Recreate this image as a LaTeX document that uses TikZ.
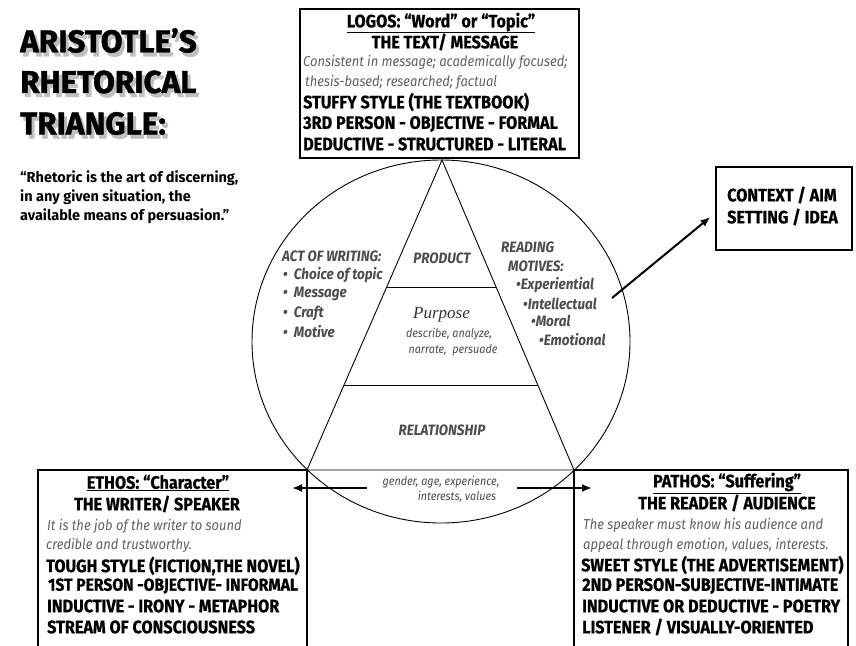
\documentclass[tikz,border=0pt]{standalone}
\usepackage{fontspec}
\setmainfont{Fira Sans}
\newfontfamily\hfont[FakeStretch=0.9,FakeBold=0.6]{Fira Sans}
\newfontfamily\tfont[FakeBold=1.2]{Fira Sans}
\newfontfamily\nfont[FakeStretch=0.9]{Fira Sans}
\newfontfamily\pfont{Liberation Serif}
\usetikzlibrary{arrows.meta,calc,shapes.geometric}
\newcommand{\shadowtext}[1]{\makebox[0pt][l]{\raisebox{-4pt}{\hspace{3pt}\textcolor{black!25}{#1}}}#1}
\tikzset{
 hd/.style={font=\hfont\bfseries\fontsize{18}{18}\selectfont, inner sep=0pt},
 hdl/.style={hd, anchor=west},
 nt/.style={font=\nfont\itshape\fontsize{14.4}{15}\selectfont, text=black!62, inner sep=0pt, anchor=west},
 ci/.style={font=\nfont\itshape\bfseries\fontsize{15}{15}\selectfont, text=black!70, inner sep=0pt},
 cil/.style={ci, anchor=west},
 sm/.style={font=\nfont\itshape\fontsize{12}{12}\selectfont, text=black!70, inner sep=0pt},
 bx/.style={draw, line width=1.2pt, inner sep=0pt},
 arr/.style={line width=2pt, -{Latex[length=10pt,width=8pt]}},
 thinline/.style={line width=0.9pt},
 ttl/.style={font=\tfont\bfseries\fontsize{31.5}{31.5}\selectfont, inner sep=0pt, anchor=west},
 qt/.style={font=\bfseries\fontsize{14.5}{14.5}\selectfont, inner sep=0pt, anchor=west}
}
\begin{document}
\begin{tikzpicture}[x=1pt,y=-1pt]
\useasboundingbox (0,0) rectangle (856,645);
\clip (0,0) rectangle (856,645);
\fill[white] (0,0) rectangle (856,645);

% title with shadow
\node[ttl] (t1) at (20,42.5) {\shadowtext{ARISTOTLE’S}};
\node[ttl] (t2) at (20,84) {\shadowtext{RHETORICAL}};
\node[ttl] (t3) at (20,125.5) {\shadowtext{TRIANGLE:}};

\node[qt] (q1) at (20,178) {“Rhetoric is the art of discerning,};
\node[qt] (q2) at (20,197) {in any given situation, the};
\node[qt] (q3) at (20,216) {available means of persuasion.”};

% circle and triangle
\node[draw, thinline, ellipse, minimum width=378pt, minimum height=363pt, inner sep=0pt] (circ) at (441,341.5) {};
\coordinate (apex) at (442,160);
\coordinate (bl) at (307,470);
\coordinate (br) at (574,470);
\draw[thinline] (apex) -- (bl) -- (br) -- cycle;
\draw[thinline] ($(apex)!0.4097!(bl)$) -- ($(apex)!0.4097!(br)$);
\draw[thinline] ($(apex)!0.7258!(bl)$) -- ($(apex)!0.7258!(br)$);

% boxes
\node[bx, fill=white, minimum width=279pt, minimum height=149pt] (logos) at (439.5,83.5) {};
\node[bx, minimum width=269pt, minimum height=200pt] (ethos) at (172.5,570) {};
\node[bx, minimum width=274pt, minimum height=200pt] (pathos) at (711,570) {};
\node[bx, minimum width=136pt, minimum height=83pt] (ctx) at (784,208.5) {};

% logos text
\node[hd] (lg1) at (441,23) {\underline{LOGOS: “Word” or “Topic”}};
\node[hd] (lg2) at (445,42) {THE TEXT/ MESSAGE};
\node[nt] (lg3) at (303,62) {Consistent in message; academically focused;};
\node[nt] (lg4) at (305,82) {thesis-based; researched; factual};
\node[hdl] (lg5) at (303,102) {STUFFY STYLE (THE TEXTBOOK)};
\node[hdl] (lg6) at (303,124) {3RD PERSON - OBJECTIVE - FORMAL};
\node[hdl] (lg7) at (303,144) {DEDUCTIVE - STRUCTURED - LITERAL};

% ethos text
\node[hd] (et1) at (158,483) {\underline{ETHOS: “Character”}};
\node[hd] (et2) at (157,504) {THE WRITER/ SPEAKER};
\node[nt] (et3) at (47,526) {It is the job of the writer to sound};
\node[nt] (et4) at (46,545) {credible and trustworthy.};
\node[hdl] (et5) at (46,566) {TOUGH STYLE (FICTION,THE NOVEL)};
\node[hdl, font=\hfont\bfseries\fontsize{17.4}{17.4}\selectfont] (et6) at (48,586) {1ST PERSON -OBJECTIVE- INFORMAL};
\node[hdl] (et7) at (47,606) {INDUCTIVE - IRONY - METAPHOR};
\node[hdl] (et8) at (47,627) {STREAM OF CONSCIOUSNESS};

% pathos text
\node[hd] (pa1) at (727,483) {\underline{PATHOS: “Suffering”}};
\node[hd] (pa2) at (727,503) {THE READER / AUDIENCE};
\node[nt] (pa3) at (583,525) {The speaker must know his audience and};
\node[nt] (pa4) at (583,545) {appeal through emotion, values, interests.};
\node[hdl] (pa5) at (581,565) {SWEET STYLE (THE ADVERTISEMENT)};
\node[hdl] (pa6) at (582,586) {2ND PERSON-SUBJECTIVE-INTIMATE};
\node[hdl] (pa7) at (582,606) {INDUCTIVE OR DEDUCTIVE - POETRY};
\node[hdl] (pa8) at (582,627) {LISTENER / VISUALLY-ORIENTED};

% context text
\node[hdl] (cx1) at (727,195) {CONTEXT / AIM};
\node[hdl] (cx2) at (727,217) {SETTING / IDEA};

% inside circle
\node[cil] (aw) at (282,256) {ACT OF WRITING:};
\node[cil] (aw1) at (283,275) {• \ Choice of topic};
\node[cil] (aw2) at (283,294) {• \ Message};
\node[cil] (aw3) at (283,313) {• \ Craft};
\node[cil] (aw4) at (283,332) {• \ Motive};

\node[ci] (prod) at (442,258) {PRODUCT};
\node[font=\pfont\itshape\fontsize{17}{17}\selectfont, text=black!80, inner sep=0pt, anchor=west] (purp) at (413,315) {Purpose};
\node[sm] (pu1) at (449,334) {describe, analyze,};
\node[sm] (pu2) at (453,350) {narrate,\ \ persuade};
\node[ci] (rel) at (442,430) {RELATIONSHIP};

\node[cil] (rm1) at (501,247) {READING};
\node[cil] (rm2) at (508,266) {MOTIVES:};
\node[cil] (rm3) at (516,285) {•Experiential};
\node[cil] (rm4) at (523,304) {•Intellectual};
\node[cil] (rm5) at (531,321) {•Moral};
\node[cil] (rm6) at (539,340) {•Emotional};

\node[sm] (gd1) at (441,482) {gender, age, experience,};
\node[sm] (gd2) at (457,497) {interests, values};

% arrows
\coordinate (la0) at (367,488);
\coordinate (la1) at (292,488);
\coordinate (ra0) at (517,488);
\coordinate (ra1) at (592,488);
\draw[arr] (la0) -- (la1);
\draw[arr] (ra0) -- (ra1);
\coordinate (cs) at (612,298);
\draw[arr] (cs) -- ([xshift=-5pt,yshift=-8.5pt]ctx.west);
\end{tikzpicture}
\end{document}
